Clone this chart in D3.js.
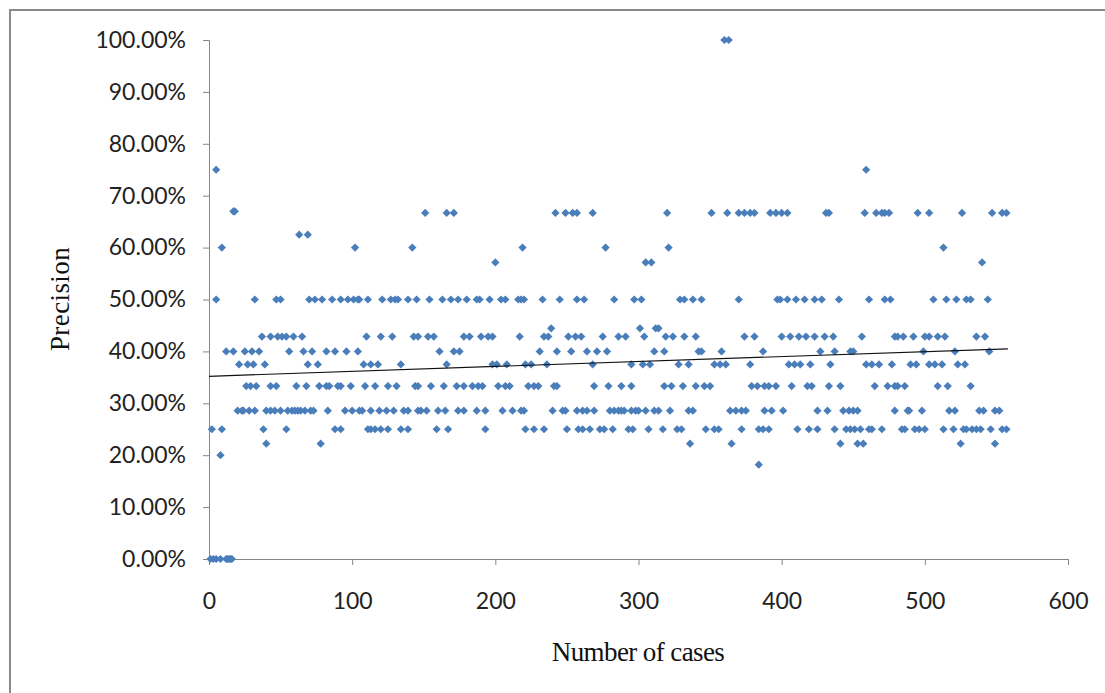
<!DOCTYPE html>
<html>
<head>
<meta charset="utf-8">
<script src="https://cdn.jsdelivr.net/npm/d3@7"></script>
<style>
  html, body { margin: 0; padding: 0; background: #fff; }
  #chart { width: 1105px; height: 693px; }
</style>
</head>
<body>
<div id="chart"></div>
<script>
// precision levels and the case numbers plotted on each level
const level0    = [1, 3, 5, 8, 12, 13, 14, 15, 16];
const level1818 = [384];
const level2000 = [8];
const level2222 = [40, 78, 336, 365, 441, 453, 457, 525, 549];
const level2500 = [2, 9, 38, 54, 88, 92, 111, 113, 116, 120, 125, 134, 139, 159, 167, 193, 221, 227, 234, 250, 258, 261, 266, 273, 276, 282, 293,
  296, 307, 317, 327, 330, 347, 353, 356, 372, 384, 387, 391, 411, 419, 425, 437, 445, 448, 451, 455, 461, 463, 470, 484, 486, 493, 496, 500, 513, 520,
  527, 529, 533, 536, 539, 546, 554, 557];
const level2857 = [20, 23, 24, 28, 32, 40, 43, 46, 50, 55, 58, 60, 62, 64, 67, 71, 73, 83, 95, 100, 105, 107, 113, 119, 124, 129, 136, 139, 146,
  148, 152, 160, 165, 174, 178, 187, 193, 205, 212, 218, 220, 240, 247, 249, 257, 261, 264, 269, 280, 283, 286, 288, 290, 295,
  298, 300, 305, 311, 314, 322, 335, 338, 364, 368, 372, 375, 388, 393, 401, 425, 432, 443, 447, 450, 453, 479, 488, 489, 498, 517, 521,
  538, 541, 549, 552];
const level3333 = [26, 29, 33, 43, 47, 61, 68, 77, 82, 84, 90, 92, 99, 109, 116, 125, 131, 144, 146, 155, 164, 173, 178, 184, 188, 191, 202, 207, 210, 223,
  227, 230, 241, 243, 269, 279, 288, 295, 318, 323, 331, 340, 346, 350, 379, 383, 388, 391, 396, 407, 418, 421, 433, 441,
  465, 474, 479, 481, 486, 509, 516, 532];
const level3750 = [21, 27, 31, 39, 69, 76, 108, 113, 118, 134, 166, 198, 201, 208, 221, 225, 236, 268, 295, 303, 308, 328, 335, 353, 357, 361,
  378, 405, 409, 413, 420, 434, 459, 463, 468, 477, 490, 494, 503, 507, 512, 523, 528];
const level4000 = [12, 17, 25, 30, 35, 56, 66, 72, 82, 88, 96, 104, 161, 171, 175, 231, 243, 253, 264, 271, 278, 311, 318, 342, 344, 358,
  387, 427, 437, 448, 450, 499, 521, 545];
const level4286 = [37, 43, 48, 51, 54, 59, 65, 110, 120, 128, 143, 146, 153, 157, 178, 182, 190, 195, 198, 217, 234, 237, 251, 256, 260, 275, 286, 291,
  304, 319, 324, 332, 340, 374, 381, 400, 406, 412, 417, 423, 430, 436, 456, 479, 481, 485, 492, 500, 503, 509, 514, 536, 542];
const level4444 = [239, 301, 312, 314];
const level5000 = [5, 32, 47, 50, 70, 74, 79, 86, 92, 97, 101, 104, 105, 111, 121, 127, 130, 132, 139, 145, 154, 163, 169, 174, 180, 187, 189, 196,
  204, 207, 216, 218, 220, 233, 245, 257, 262, 283, 297, 302, 329, 332, 338, 344, 370, 397, 399, 404, 410, 416, 423, 428, 440,
  461, 472, 476, 506, 515, 522, 529, 532, 544];
const level5714 = [200, 305, 309, 540];
const level6000 = [9, 102, 142, 219, 277, 321, 513];
const level6250 = [63, 69];
const level6667 = [151, 166, 171, 242, 249, 254, 257, 268, 320, 351, 362, 370, 374, 378, 381, 392, 396, 400, 404, 431, 433,
  458, 466, 470, 472, 475, 495, 503, 526, 547, 554, 557];
const level6700 = [17, 18];
const level7500 = [5, 459];
const level10000 = [360, 363];

const levelValues = [0, 0.1818, 0.2, 0.2222, 0.25, 0.2857, 0.3333, 0.375, 0.4, 0.4286, 0.4444, 0.5, 0.5714, 0.6, 0.625, 0.6667, 0.67, 0.75, 1];
const levelCases = [level0, level1818, level2000, level2222, level2500, level2857, level3333, level3750, level4000, level4286, level4444,
  level5000, level5714, level6000, level6250, level6667, level6700, level7500, level10000];

// linear trend line
const trendX = [0, 558];
const trendY = [0.352, 0.405];

const xTicks = [0, 100, 200, 300, 400, 500, 600];
const yTicks = [0, 0.1, 0.2, 0.3, 0.4, 0.5, 0.6, 0.7, 0.8, 0.9, 1];

(() => {
  const width = 1105, height = 693;
  const plot = { left: 209, right: 1068, top: 40, bottom: 559 };
  const axisColor = "#868686";
  const tickFont = "Lato, 'Open Sans', sans-serif";
  const titleFont = "'Liberation Serif', 'DejaVu Serif', serif";

  const data = [];
  levelValues.forEach((v, i) => levelCases[i].forEach(c => data.push({ x: c, y: v })));

  const svg = d3.select("#chart")
    .append("svg")
    .attr("width", width)
    .attr("height", height)
    .attr("viewBox", `0 0 ${width} ${height}`);

  // chart frame
  svg.append("rect")
    .attr("x", 10).attr("y", 10)
    .attr("width", width + 20).attr("height", height + 20)
    .attr("fill", "none")
    .attr("stroke", "#8a8a8a")
    .attr("stroke-width", 2);

  const x = d3.scaleLinear().domain([0, 600]).range([plot.left, plot.right]);
  const y = d3.scaleLinear().domain([0, 1]).range([plot.bottom, plot.top]);

  // axes
  const yAxis = svg.append("g")
    .attr("transform", `translate(${plot.left},0)`)
    .call(d3.axisLeft(y).tickValues(yTicks).tickSizeOuter(0).tickSize(6).tickPadding(17)
      .tickFormat(d => (d * 100).toFixed(2) + "%"));

  const xAxis = svg.append("g")
    .attr("transform", `translate(0,${plot.bottom})`)
    .call(d3.axisBottom(x).tickValues(xTicks).tickSizeOuter(0).tickSize(6).tickPadding(28));

  [xAxis, yAxis].forEach(a => {
    a.selectAll("path, line").attr("stroke", axisColor).attr("stroke-width", 1);
    a.selectAll("text")
      .attr("fill", "#222")
      .style("font-family", tickFont)
      .style("font-size", "23px");
  });

  // points
  svg.append("g")
    .selectAll("path")
    .data(data)
    .enter()
    .append("path")
    .attr("d", d3.symbol().type(d3.symbolSquare).size(34))
    .attr("transform", d => `translate(${x(d.x)},${y(d.y)}) rotate(45)`)
    .attr("fill", "#4a7ebb");

  // trend line
  svg.append("path")
    .datum(trendX.map((v, i) => [v, trendY[i]]))
    .attr("fill", "none")
    .attr("stroke", "#111")
    .attr("stroke-width", 1.2)
    .attr("d", d3.line().x(d => x(d[0])).y(d => y(d[1])));

  // titles
  svg.append("text")
    .attr("x", 638)
    .attr("y", 661)
    .attr("text-anchor", "middle")
    .attr("fill", "#111")
    .style("font-family", titleFont)
    .style("font-size", "27px")
    .style("letter-spacing", "-0.6px")
    .text("Number of cases");

  svg.append("text")
    .attr("transform", "translate(69,299) rotate(-90)")
    .attr("text-anchor", "middle")
    .attr("fill", "#111")
    .style("font-family", titleFont)
    .style("font-size", "27px")
    .style("letter-spacing", "0.4px")
    .text("Precision");
})();
</script>
</body>
</html>
